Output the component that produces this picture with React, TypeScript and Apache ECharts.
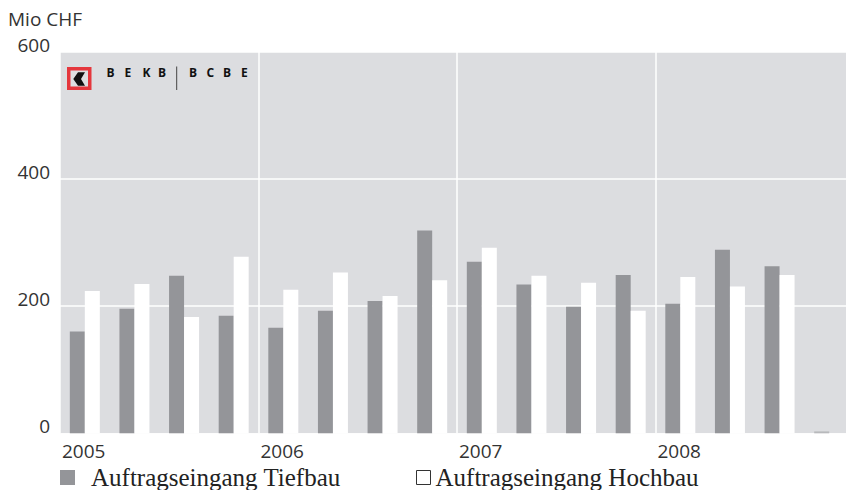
import React, { useEffect, useRef } from "react";
import * as echarts from "echarts";

const quarters = [
  "2005 Q1", "2005 Q2", "2005 Q3", "2005 Q4",
  "2006 Q1", "2006 Q2", "2006 Q3", "2006 Q4",
  "2007 Q1", "2007 Q2", "2007 Q3", "2007 Q4",
  "2008 Q1", "2008 Q2", "2008 Q3", "2008 Q4",
];
const tiefbau = [160, 196, 248, 185, 166, 193, 208, 319, 270, 234, 199, 249, 204, 289, 263, 3];
const hochbau = [224, 235, 183, 278, 226, 253, 216, 241, 292, 248, 237, 193, 246, 231, 249, null];
const yearLabels = ["2005", "2006", "2007", "2008"];
const yTicks = { min: 0, max: 600, interval: 200 };
const logoLeft = ["B", "E", "K", "B"];
const logoRight = ["B", "C", "B", "E"];

const SANS = "'Open Sans', 'Noto Sans', sans-serif";
const SERIF = "'Liberation Serif', 'DejaVu Serif', serif";
const DARK = "#949599";
const BG = "#dcdde0";

export default function App() {
  const ref = useRef<HTMLDivElement>(null);

  useEffect(() => {
    if (!ref.current) return;
    const chart = echarts.init(ref.current, null, { renderer: "svg" });

    const leftX = [106.5, 124.5, 142.5, 158];
    const rightX = [189, 206.5, 223, 241];
    const letters: any[] = [];
    logoLeft.forEach((l, i) =>
      letters.push({
        type: "text",
        x: leftX[i],
        y: 72.5,
        style: { text: l, fill: "#111", font: `bold 12px ${SANS}`, verticalAlign: "middle" },
      })
    );
    logoRight.forEach((l, i) =>
      letters.push({
        type: "text",
        x: rightX[i],
        y: 72.5,
        style: { text: l, fill: "#111", font: `bold 12px ${SANS}`, verticalAlign: "middle" },
      })
    );

    chart.setOption({
      animation: false,
      title: {
        text: "Mio CHF",
        left: 8,
        top: 9,
        padding: 0,
        textStyle: { fontFamily: SANS, fontSize: 19, fontWeight: "normal", color: "#333" },
      },
      grid: {
        left: 60,
        top: 52,
        width: 794,
        height: 381.3,
        show: true,
        backgroundColor: BG,
        borderWidth: 0,
      },
      legend: [
        {
          left: 60,
          top: 465,
          padding: 0,
          itemWidth: 15,
          itemHeight: 15,
          icon: "rect",
          selectedMode: false,
          data: [{ name: "Auftragseingang Tiefbau", itemStyle: { color: DARK, borderWidth: 0 } }],
          formatter: (n: string) => `{a|${n}}`,
          textStyle: {
            rich: { a: { fontFamily: SERIF, fontSize: 25, lineHeight: 25, color: "#222", padding: [0, 0, 0, 11] } },
          },
        },
        {
          left: 416,
          top: 465,
          padding: 0,
          itemWidth: 14,
          itemHeight: 14,
          icon: "rect",
          selectedMode: false,
          data: [
            {
              name: "Auftragseingang Hochbau",
              itemStyle: { color: "#ffffff", borderColor: "#333", borderWidth: 1 },
            },
          ],
          formatter: (n: string) => `{a|${n}}`,
          textStyle: {
            rich: { a: { fontFamily: SERIF, fontSize: 25, lineHeight: 25, color: "#222", padding: [0, 0, 0, 0] } },
          },
        },
      ],
      xAxis: [
        {
          type: "category",
          data: quarters,
          axisLine: { show: false },
          axisTick: { show: false },
          axisLabel: { show: false },
          splitLine: { show: false },
        },
        {
          type: "value",
          min: 0,
          max: 16,
          interval: 4,
          position: "bottom",
          axisLine: { show: false },
          axisTick: { show: false },
          splitLine: { show: true, lineStyle: { color: "#ffffff", width: 1.5 } },
          axisLabel: {
            showMinLabel: true,
            showMaxLabel: false,
            formatter: (v: number) => yearLabels[v / 4] ?? "",
            align: "left",
            margin: 8,
            padding: [0, 0, 0, 2],
            fontFamily: SANS,
            fontSize: 19,
            lineHeight: 19,
            color: "#333",
          },
        },
      ],
      yAxis: {
        type: "value",
        min: yTicks.min,
        max: yTicks.max,
        interval: yTicks.interval,
        axisLine: { show: false },
        axisTick: { show: false },
        splitLine: { lineStyle: { color: "#ffffff", width: 1.5 } },
        axisLabel: {
          margin: 10,
          fontFamily: SANS,
          fontSize: 19,
          lineHeight: 15,
          verticalAlign: "bottom",
          color: "#333",
        },
      },
      series: [
        {
          name: "Auftragseingang Tiefbau",
          type: "bar",
          xAxisIndex: 0,
          barWidth: 15,
          barGap: "0%",
          itemStyle: { color: DARK },
          data: tiefbau.map((v, i) => (i === 15 ? { value: v, itemStyle: { color: "#b8b9bc" } } : v)),
        },
        {
          name: "Auftragseingang Hochbau",
          type: "bar",
          xAxisIndex: 0,
          barWidth: 15,
          barGap: "0%",
          itemStyle: { color: "#ffffff" },
          data: hochbau,
        },
      ],
      graphic: [
        {
          type: "group",
          z: 100,
          children: [
            { type: "rect", shape: { x: 67, y: 67, width: 24.5, height: 23 }, style: { fill: "#e5373d" } },
            { type: "rect", shape: { x: 70.5, y: 70.5, width: 17.5, height: 16 }, style: { fill: "#dedfe1" } },
            {
              type: "polygon",
              shape: {
                points: [
                  [78, 72.3],
                  [85, 72.3],
                  [81, 79],
                  [85, 85.8],
                  [78, 85.8],
                  [73.3, 79],
                ],
              },
              style: { fill: "#111" },
            },
            { type: "line", shape: { x1: 176.7, y1: 66.5, x2: 176.7, y2: 90 }, style: { stroke: "#444", lineWidth: 1 } },
            ...letters,
          ],
        },
      ],
    });

    return () => chart.dispose();
  }, []);

  return (
    <div
      style={{
        position: "absolute",
        left: 0,
        top: 0,
        width: 846,
        height: 490,
        overflow: "hidden",
        background: "#fff",
      }}
    >
      <div ref={ref} style={{ width: 854, height: 490 }} />
    </div>
  );
}
